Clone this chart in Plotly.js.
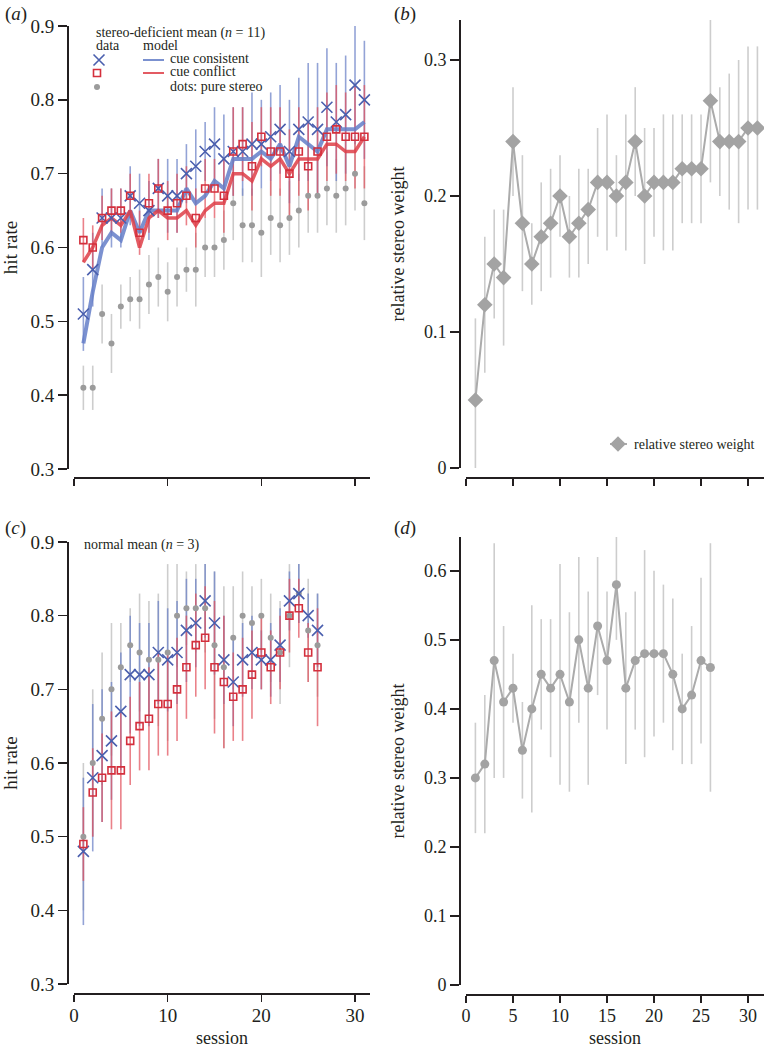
<!DOCTYPE html>
<html>
<head>
<meta charset="utf-8">
<script src="https://cdn.plot.ly/plotly-3.0.1.min.js"></script>
<style>html,body{margin:0;padding:0;background:#fff;}#chart{width:764px;height:1047px;}</style>
</head>
<body>
<div id="chart"></div>
<script>
// ---------- data ----------
const sessionsA = [1,2,3,4,5,6,7,8,9,10,11,12,13,14,15,16,17,18,19,20,21,22,23,24,25,26,27,28,29,30,31];
const sessionsC = [1,2,3,4,5,6,7,8,9,10,11,12,13,14,15,16,17,18,19,20,21,22,23,24,25,26];

// (a) stereo-deficient mean
const consDataA  = [0.51,0.57,0.64,0.64,0.64,0.67,0.66,0.65,0.68,0.67,0.67,0.70,0.71,0.73,0.74,0.72,0.73,0.73,0.74,0.74,0.75,0.76,0.73,0.76,0.77,0.76,0.79,0.77,0.78,0.82,0.80];
const consErrA   = [0.05,0.05,0.04,0.04,0.04,0.04,0.04,0.04,0.04,0.05,0.05,0.04,0.05,0.04,0.05,0.06,0.06,0.06,0.07,0.06,0.06,0.06,0.07,0.07,0.08,0.09,0.08,0.08,0.08,0.08,0.08];
const conflDataA = [0.61,0.60,0.64,0.65,0.65,0.67,0.62,0.66,0.68,0.65,0.66,0.67,0.64,0.68,0.68,0.67,0.73,0.74,0.71,0.75,0.73,0.73,0.70,0.73,0.71,0.73,0.75,0.76,0.75,0.75,0.75];
const conflErrA  = [0.03,0.03,0.03,0.03,0.03,0.03,0.03,0.04,0.04,0.04,0.04,0.04,0.04,0.04,0.04,0.05,0.06,0.05,0.06,0.04,0.06,0.06,0.06,0.06,0.06,0.06,0.06,0.06,0.06,0.07,0.07];
const stereoDataA= [0.41,0.41,0.51,0.47,0.52,0.53,0.53,0.55,0.56,0.54,0.56,0.57,0.57,0.60,0.60,0.61,0.66,0.63,0.63,0.62,0.64,0.63,0.64,0.65,0.67,0.67,0.68,0.67,0.68,0.70,0.66];
const stereoErrA = [0.03,0.03,0.04,0.04,0.03,0.03,0.04,0.04,0.04,0.04,0.04,0.03,0.05,0.04,0.04,0.04,0.05,0.05,0.05,0.06,0.05,0.05,0.05,0.05,0.05,0.05,0.05,0.05,0.05,0.05,0.05];
const consModelA = [0.47,0.54,0.60,0.62,0.61,0.65,0.62,0.65,0.65,0.65,0.65,0.68,0.66,0.67,0.69,0.68,0.72,0.72,0.72,0.73,0.72,0.74,0.71,0.75,0.74,0.73,0.76,0.76,0.76,0.76,0.77];
const conflModelA= [0.58,0.60,0.63,0.64,0.63,0.65,0.60,0.64,0.65,0.64,0.64,0.65,0.63,0.65,0.66,0.66,0.70,0.70,0.69,0.72,0.71,0.72,0.70,0.72,0.72,0.72,0.74,0.74,0.73,0.73,0.75];

// (b) relative stereo weight, stereo-deficient
const weightB   = [0.05,0.12,0.15,0.14,0.24,0.18,0.15,0.17,0.18,0.20,0.17,0.18,0.19,0.21,0.21,0.20,0.21,0.24,0.20,0.21,0.21,0.21,0.22,0.22,0.22,0.27,0.24,0.24,0.24,0.25,0.25];
const weightBHi = [0.11,0.17,0.19,0.19,0.28,0.23,0.18,0.21,0.22,0.23,0.20,0.22,0.22,0.25,0.26,0.23,0.26,0.28,0.25,0.25,0.26,0.26,0.26,0.26,0.26,0.33,0.28,0.29,0.30,0.31,0.31];
const weightBLo = [0.00,0.07,0.11,0.09,0.20,0.13,0.12,0.13,0.14,0.17,0.14,0.14,0.15,0.17,0.16,0.17,0.16,0.20,0.15,0.17,0.16,0.16,0.18,0.18,0.18,0.21,0.20,0.19,0.18,0.19,0.19];

// (c) normal mean
const consDataC  = [0.48,0.58,0.61,0.63,0.67,0.72,0.72,0.72,0.75,0.74,0.75,0.78,0.79,0.82,0.79,0.74,0.71,0.74,0.75,0.74,0.74,0.76,0.82,0.83,0.80,0.78];
const consErrC   = [0.10,0.10,0.09,0.08,0.08,0.08,0.07,0.07,0.07,0.07,0.07,0.07,0.06,0.05,0.07,0.06,0.06,0.05,0.05,0.04,0.05,0.05,0.04,0.04,0.03,0.05];
const conflDataC = [0.49,0.56,0.58,0.59,0.59,0.63,0.65,0.66,0.68,0.68,0.70,0.73,0.76,0.77,0.73,0.71,0.69,0.70,0.72,0.75,0.73,0.75,0.80,0.81,0.75,0.73];
const conflErrC  = [0.05,0.06,0.06,0.08,0.08,0.06,0.06,0.07,0.07,0.07,0.07,0.07,0.07,0.07,0.09,0.09,0.06,0.07,0.06,0.05,0.05,0.05,0.05,0.04,0.04,0.08];
const stereoDataC= [0.50,0.60,0.66,0.70,0.73,0.76,0.75,0.74,0.74,0.75,0.80,0.81,0.81,0.81,0.76,0.73,0.77,0.80,0.79,0.80,0.77,0.75,0.80,0.83,0.78,0.76];
const stereoErrC = [0.10,0.10,0.09,0.09,0.06,0.05,0.08,0.08,0.09,0.12,0.07,0.05,0.06,0.06,0.10,0.11,0.07,0.06,0.05,0.05,0.06,0.07,0.07,0.04,0.07,0.07];

// (d) relative stereo weight, normal
const weightD   = [0.30,0.32,0.47,0.41,0.43,0.34,0.40,0.45,0.43,0.45,0.41,0.50,0.43,0.52,0.47,0.58,0.43,0.47,0.48,0.48,0.48,0.45,0.40,0.42,0.47,0.46];
const weightDHi = [0.38,0.42,0.64,0.52,0.48,0.41,0.55,0.53,0.53,0.61,0.54,0.62,0.57,0.62,0.57,0.65,0.54,0.57,0.63,0.60,0.58,0.56,0.48,0.52,0.59,0.64];
const weightDLo = [0.22,0.22,0.30,0.30,0.38,0.27,0.25,0.37,0.33,0.29,0.28,0.38,0.29,0.42,0.37,0.50,0.32,0.37,0.33,0.36,0.38,0.34,0.32,0.32,0.35,0.28];

const ticksHit = [0.3,0.4,0.5,0.6,0.7,0.8,0.9];
const ticksWB  = [0,0.1,0.2,0.3];
const ticksWD  = [0,0.1,0.2,0.3,0.4,0.5,0.6];
const ticksX10 = [0,10,20,30];
const ticksX5  = [0,5,10,15,20,25,30];

// ---------- styling ----------
const W = 764, H = 1047;
const fx = p => p / W;
const fy = p => 1 - p / H;
const FONT = "'Liberation Serif','Times New Roman',serif";
const INK = '#231f20';
const BLUE = '#4a5fae', BLUE_BAR = 'rgba(105,128,198,0.72)', BLUE_LINE = 'rgba(100,126,200,0.85)';
const RED = '#d42f3c', RED_BAR = 'rgba(226,80,92,0.72)', RED_LINE = 'rgba(222,62,72,0.85)';
const GREY = '#9b9b9b', GREY_BAR = '#cdcdcd', GREY_LINE = '#ababab';

function diff(a, b) { return a.map((v, i) => +(v - b[i]).toFixed(3)); }
function bars(x, y, e, color, xa, ya, eMinus) {
  const ey = {type: 'data', array: e, color: color, thickness: 1.6, width: 0, visible: true};
  if (eMinus) { ey.symmetric = false; ey.arrayminus = eMinus; } else { ey.symmetric = true; }
  return {x: x, y: y, xaxis: xa, yaxis: ya, type: 'scatter', mode: 'markers',
          marker: {size: 2, opacity: 0}, error_y: ey, hoverinfo: 'skip', showlegend: false};
}
function pts(x, y, xa, ya, marker, mode, line) {
  const t = {x: x, y: y, xaxis: xa, yaxis: ya, type: 'scatter', mode: mode || 'markers',
             marker: marker, hoverinfo: 'skip', showlegend: false, cliponaxis: false};
  if (line) t.line = line;
  return t;
}
const mX  = {symbol: 'x-thin-open', size: 11, line: {color: BLUE, width: 1.6}, color: BLUE};
const mSq = {symbol: 'square-open', size: 7, line: {color: RED, width: 1.6}, color: RED};
const mDot= {symbol: 'circle', size: 6, color: GREY};

const traces = [
  // (a)
  bars(sessionsA, stereoDataA, stereoErrA, GREY_BAR, 'x', 'y'),
  bars(sessionsA, consDataA, consErrA, BLUE_BAR, 'x', 'y'),
  bars(sessionsA, conflDataA, conflErrA, RED_BAR, 'x', 'y'),
  pts(sessionsA, stereoDataA, 'x', 'y', mDot),
  pts(sessionsA, consModelA, 'x', 'y', {size: 1}, 'lines', {color: BLUE_LINE, width: 4}),
  pts(sessionsA, conflModelA, 'x', 'y', {size: 1}, 'lines', {color: RED_LINE, width: 3.5}),
  pts(sessionsA, consDataA, 'x', 'y', mX),
  pts(sessionsA, conflDataA, 'x', 'y', mSq),
  // (b)
  bars(sessionsA, weightB, diff(weightBHi, weightB), GREY_BAR, 'x2', 'y2', diff(weightB, weightBLo)),
  pts(sessionsA, weightB, 'x2', 'y2', {symbol: 'diamond', size: 12, color: '#a3a3a3'}, 'lines+markers', {color: GREY_LINE, width: 2}),
  // (c)
  bars(sessionsC, stereoDataC, stereoErrC, GREY_BAR, 'x3', 'y3'),
  bars(sessionsC, consDataC, consErrC, BLUE_BAR, 'x3', 'y3'),
  bars(sessionsC, conflDataC, conflErrC, RED_BAR, 'x3', 'y3'),
  pts(sessionsC, stereoDataC, 'x3', 'y3', mDot),
  pts(sessionsC, consDataC, 'x3', 'y3', mX),
  pts(sessionsC, conflDataC, 'x3', 'y3', mSq),
  // (d)
  bars(sessionsC, weightD, diff(weightDHi, weightD), GREY_BAR, 'x4', 'y4', diff(weightD, weightDLo)),
  pts(sessionsC, weightD, 'x4', 'y4', {symbol: 'circle', size: 9, color: '#a3a3a3'}, 'lines+markers', {color: GREY_LINE, width: 2}),
  // legend glyphs (overlay in pixel space)
  pts([99], [60], 'x5', 'y5', mX),
  pts([97], [73], 'x5', 'y5', mSq),
  pts([97], [87], 'x5', 'y5', mDot),
  pts([610, 627], [444, 444], 'x5', 'y5', {size: 1}, 'lines', {color: GREY_LINE, width: 2}),
  pts([618], [444], 'x5', 'y5', {symbol: 'diamond', size: 12, color: '#a3a3a3'})
];

function yAx(dom, range, pos, vals, fsize, title, standoff) {
  return {domain: dom, range: range, anchor: 'free', position: pos, showline: true, linecolor: INK, linewidth: 2,
          ticks: 'outside', ticklen: 9, tickwidth: 1.6, tickcolor: INK, tickvals: vals, showgrid: false, zeroline: false,
          tickfont: {family: FONT, size: fsize, color: INK},
          title: {text: title, font: {family: FONT, size: fsize, color: INK}, standoff: standoff}, fixedrange: true};
}
function xAx(dom, range, pos, vals, fsize, labels) {
  return {domain: dom, range: range, anchor: 'free', position: pos, showline: true, linecolor: INK, linewidth: 2,
          ticks: 'outside', ticklen: 7, tickwidth: 1.6, tickcolor: INK, tickvals: vals, showgrid: false, zeroline: false,
          showticklabels: labels, ticklabelstandoff: -3, tickfont: {family: FONT, size: fsize, color: INK},
          fixedrange: true};
}

const ann = (x, y, text, size, xanchor, extra) => Object.assign({xref: 'paper', yref: 'paper', x: fx(x), y: fy(y),
  xanchor: xanchor || 'left', yanchor: 'middle', showarrow: false, text: text,
  font: {family: FONT, size: size, color: INK}}, extra || {});

const layout = {
  width: W, height: H, margin: {l: 0, r: 0, t: 0, b: 0},
  paper_bgcolor: '#ffffff', plot_bgcolor: 'rgba(0,0,0,0)', showlegend: false,
  xaxis:  xAx([fx(74), fx(370)], [0, 31.6], fy(478), ticksX10, 19, false),
  yaxis:  yAx([fy(469), fy(26)], [0.3, 0.9], fx(68), ticksHit, 19, 'hit rate', 10),
  xaxis2: xAx([fx(466), fx(764)], [0, 31.7], fy(478), ticksX5, 18, false),
  yaxis2: yAx([fy(468), fy(20)], [0, 0.3294], fx(460), ticksWB, 18, 'relative stereo weight', 14),
  xaxis3: xAx([fx(74), fx(370)], [0, 31.6], fy(994), ticksX10, 19, true),
  yaxis3: yAx([fy(984), fy(542)], [0.3, 0.9], fx(68), ticksHit, 19, 'hit rate', 10),
  xaxis4: xAx([fx(466), fx(764)], [0, 31.7], fy(995), ticksX5, 18, true),
  yaxis4: yAx([fy(985), fy(537)], [0, 0.649], fx(460), ticksWD, 18, 'relative stereo weight', 14),
  xaxis5: {domain: [0, 1], range: [0, W], anchor: 'y5', visible: false, fixedrange: true},
  yaxis5: {domain: [0, 1], range: [H, 0], anchor: 'x5', visible: false, fixedrange: true},
  shapes: [
    {type: 'line', xref: 'paper', yref: 'paper', x0: fx(143), x1: fx(164), y0: fy(60), y1: fy(60), line: {color: BLUE_LINE, width: 2}},
    {type: 'line', xref: 'paper', yref: 'paper', x0: fx(143), x1: fx(164), y0: fy(73), y1: fy(73), line: {color: RED_LINE, width: 2}}
  ],
  annotations: [
    ann(3, 14, '(<i>a</i>)', 19),
    ann(392, 14, '(<i>b</i>)', 19),
    ann(3, 528, '(<i>c</i>)', 19),
    ann(392, 528, '(<i>d</i>)', 19),
    ann(94, 33, 'stereo-deficient mean (<i>n</i> = 11)', 14),
    ann(94, 46, 'data', 14),
    ann(141, 46, 'model', 14),
    ann(168, 59, 'cue consistent', 14),
    ann(168, 72, 'cue conflict', 14),
    ann(168, 86, 'dots: pure stereo', 14),
    ann(632, 444, 'relative stereo weight', 14),
    ann(82, 545, 'normal mean (<i>n</i> = 3)', 14),
    ann(222, 1038, 'session', 18, 'center'),
    ann(615, 1038, 'session', 18, 'center')
  ]
};

Plotly.newPlot('chart', traces, layout, {staticPlot: true, displayModeBar: false});
</script>
</body>
</html>
